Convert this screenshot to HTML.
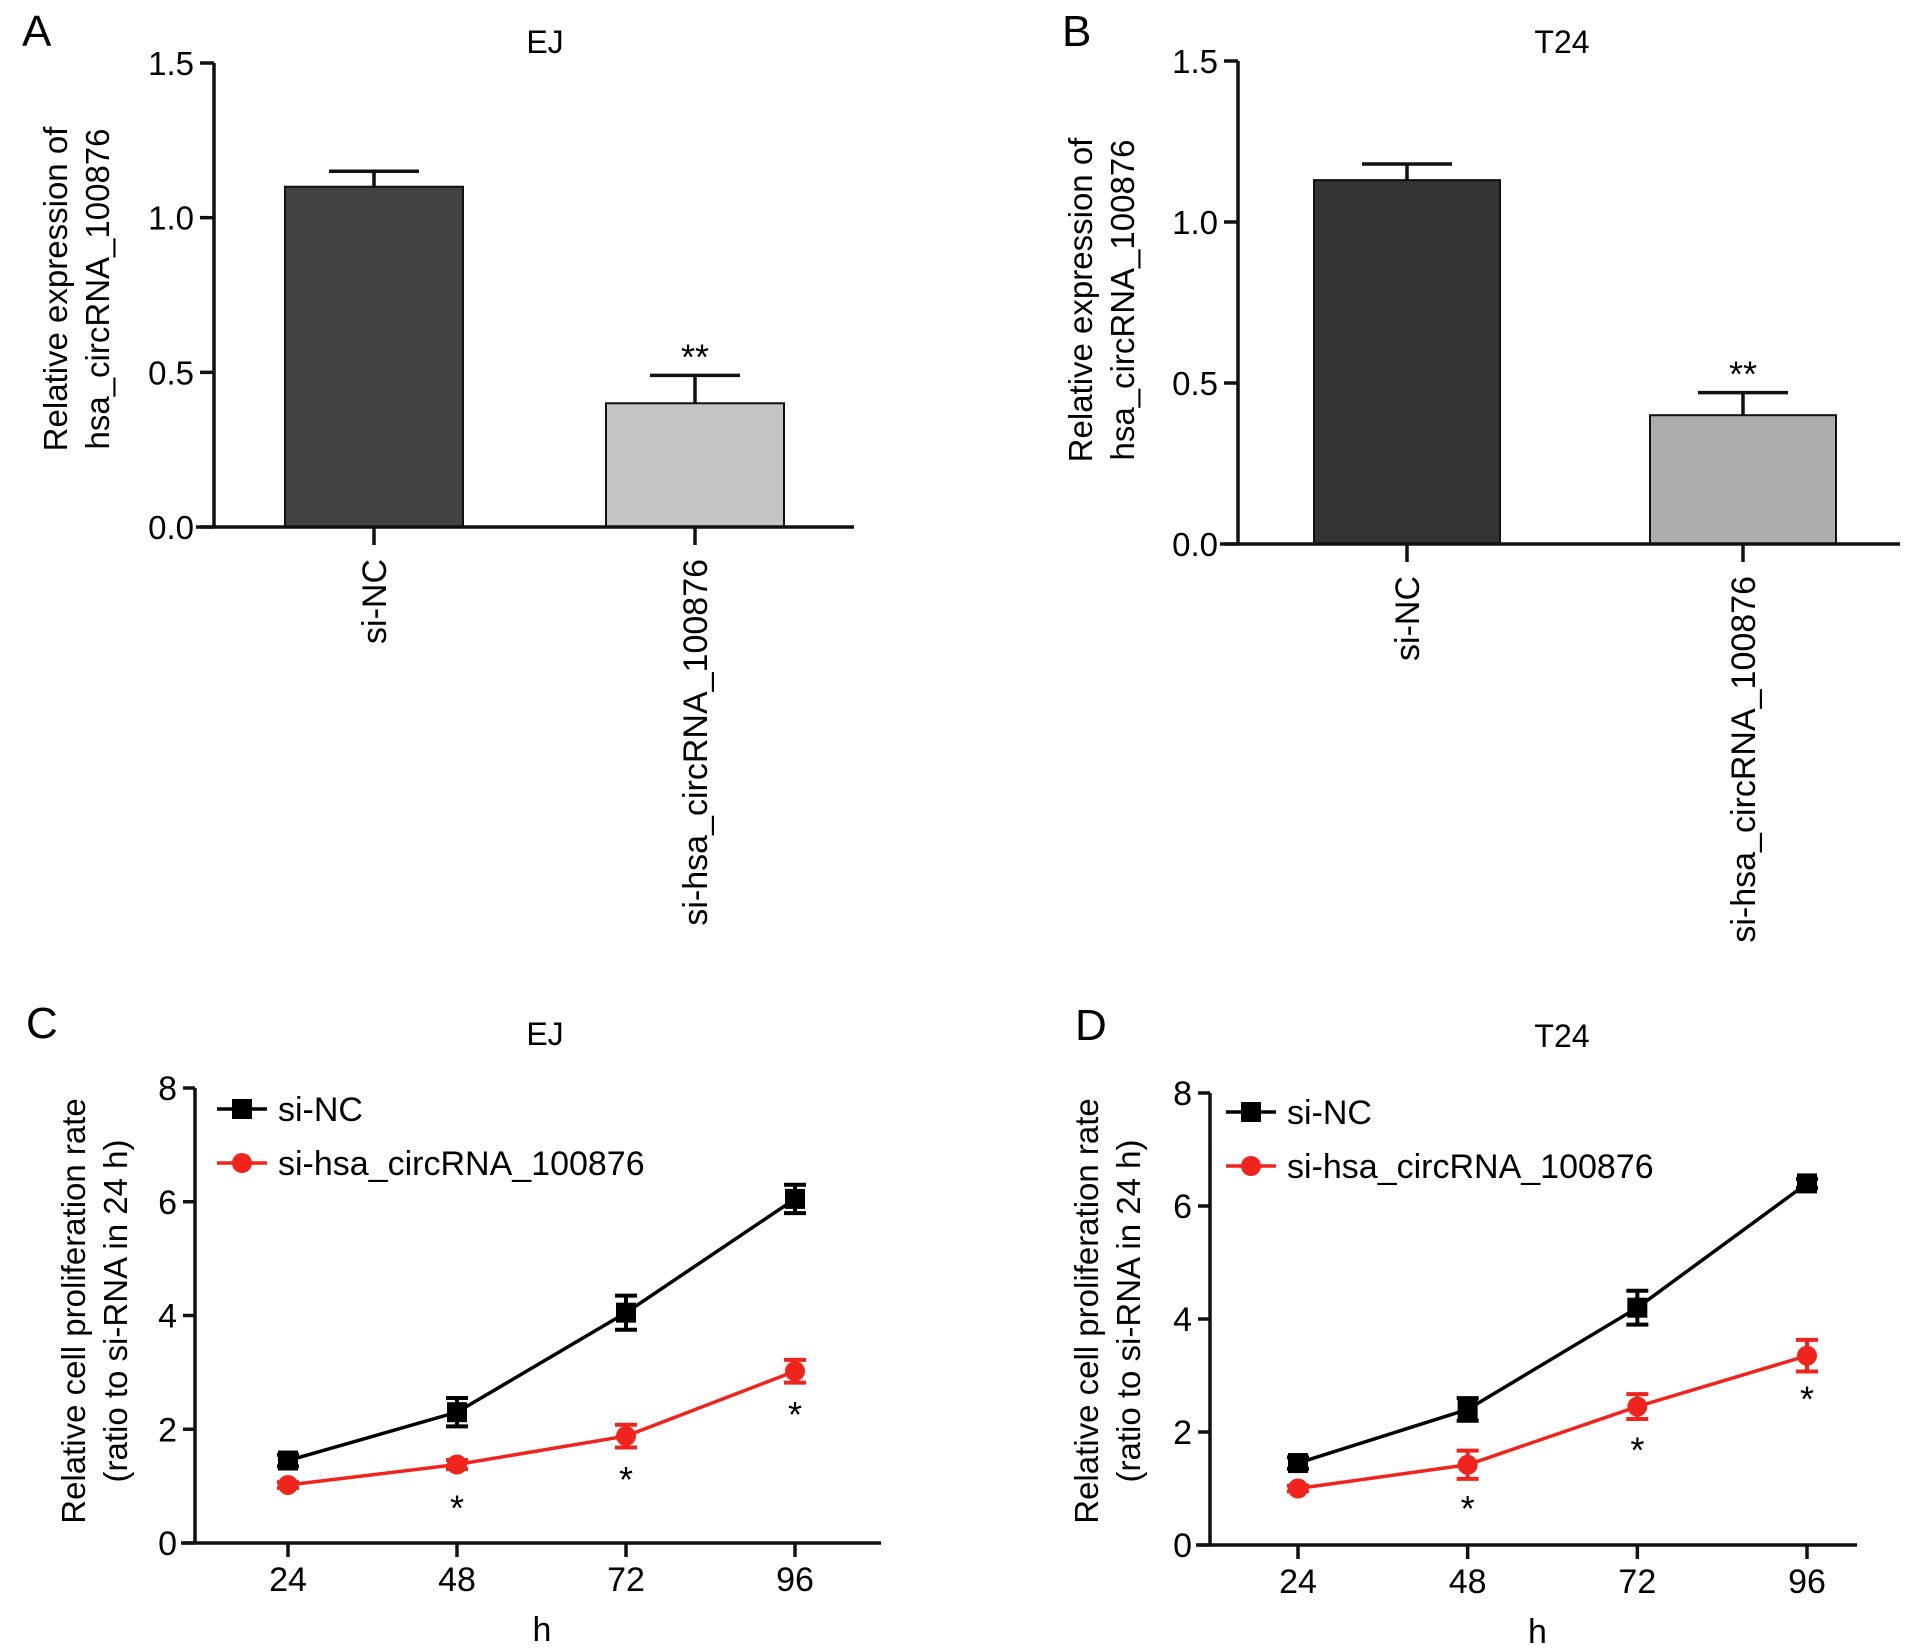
<!DOCTYPE html>
<html><head><meta charset="utf-8"><style>
html,body{margin:0;padding:0;background:#fff;}
svg{display:block;font-family:"Liberation Sans",Arial,sans-serif;}
</style></head><body>
<svg id="fig" width="1913" height="1652" viewBox="0 0 1913 1652" xmlns="http://www.w3.org/2000/svg"></svg>
<script>
// Panel A data (EJ)
const barCatsA = ["si-NC", "si-hsa_circRNA_100876"];
const barValsA = [1.10, 0.40];
const barErrA = [0.05, 0.09];
const barStarsA = ["", "**"];
// Panel B data (T24)
const barCatsB = ["si-NC", "si-hsa_circRNA_100876"];
const barValsB = [1.13, 0.40];
const barErrB = [0.05, 0.07];
const barStarsB = ["", "**"];
const barTicks = [0.0, 0.5, 1.0, 1.5];
const barTickLabels = ["0.0", "0.5", "1.0", "1.5"];
// Panel C data (EJ)
const hours = [24, 48, 72, 96];
const ncC = [1.45, 2.3, 4.05, 6.05];
const ncErrC = [0.1, 0.25, 0.3, 0.25];
const siC = [1.02, 1.38, 1.88, 3.02];
const siErrC = [0.05, 0.08, 0.2, 0.2];
// Panel D data (T24)
const ncD = [1.45, 2.4, 4.2, 6.4];
const ncErrD = [0.1, 0.2, 0.3, 0.08];
const siD = [1.0, 1.42, 2.45, 3.35];
const siErrD = [0.05, 0.25, 0.22, 0.28];
const lineTicks = [0, 2, 4, 6, 8];
const starsLine = ["", "*", "*", "*"];

const NS = "http://www.w3.org/2000/svg";
const svg = document.getElementById("fig");
function el(tag, attrs, parent, text) {
  const e = document.createElementNS(NS, tag);
  for (const k in attrs) e.setAttribute(k, attrs[k]);
  if (text !== undefined) e.textContent = text;
  (parent || svg).appendChild(e);
  return e;
}
function group(name, parent) {
  const g = el("g", {}, parent);
  
  
  return g;
}

function barPanel(p) {
  const g = group(p.name);
  const y = v => p.y0 - (v / 1.5) * (p.y0 - p.y15);
  const t1 = el("text", {x: p.lx, y: p.ly, "font-size": 44}, g, p.letter);
  
  
  const t2 = el("text", {x: p.tx, y: 53, "font-size": 32, "text-anchor": "middle"}, g, p.title);
  
  
  p.vals.forEach((v, i) => {
    const bx = p.bx[i], bw = p.bw;
    const cx = bx + bw / 2;
    const et = y(v + p.err[i]);
    const e1 = el("line", {x1: cx, y1: y(v), x2: cx, y2: et, stroke: "#111", "stroke-width": 3.5}, g);
    
    
    const e2 = el("line", {x1: cx - 45, y1: et, x2: cx + 45, y2: et, stroke: "#111", "stroke-width": 3.5}, g);
    
    
    const r = el("rect", {x: bx, y: y(v), width: bw, height: p.y0 - y(v), fill: p.colors[i], stroke: "#111", "stroke-width": 2}, g);
    
    
    if (p.stars[i]) {
      const s = el("text", {x: cx, y: et - 6, "font-size": 36, "text-anchor": "middle"}, g, p.stars[i]);
      
      
    }
    const tk = el("line", {x1: cx, y1: p.y0, x2: cx, y2: p.y0 + 18, stroke: "#111", "stroke-width": 3.5}, g);
    
    
    const cl = el("text", {x: 0, y: 0, "font-size": 34, "text-anchor": "end", transform: `translate(${cx + 12},${p.y0 + 32}) rotate(-90)`}, g, p.cats[i]);
    
    
  });
  const ya = el("line", {x1: p.ax, y1: p.y15, x2: p.ax, y2: p.y0 + 1.5, stroke: "#111", "stroke-width": 3.5}, g);
  
  
  const xa = el("line", {x1: p.ax - 18, y1: p.y0, x2: p.xend, y2: p.y0, stroke: "#111", "stroke-width": 3.5}, g);
  
  
  barTicks.forEach((t, i) => {
    const tl = el("line", {x1: p.ax - 14, y1: y(t), x2: p.ax, y2: y(t), stroke: "#111", "stroke-width": 3.5}, g);
    
    
    const tt = el("text", {x: p.ax - 20, y: y(t) + 12, "font-size": 33, "text-anchor": "end"}, g, barTickLabels[i]);
    
    
  });
  const yt = el("text", {x: 0, y: 0, "font-size": 33, "text-anchor": "middle", transform: `translate(${p.ytx},${p.yty}) rotate(-90)`}, g);
  
  
  el("tspan", {x: 0, dy: 0}, yt, "Relative expression of");
  el("tspan", {x: 0, dy: 42}, yt, "hsa_circRNA_100876");
}

function linePanel(p) {
  const g = group(p.name);
  const y = v => p.y0 - (v / 8) * (p.y0 - p.y8);
  const x = h => p.x24 + (h - 24) / 72 * (p.x96 - p.x24);
  const t1 = el("text", {x: p.lx, y: p.ly, "font-size": 44}, g, p.letter);
  
  
  const t2 = el("text", {x: p.tx, y: p.ty, "font-size": 32, "text-anchor": "middle"}, g, p.title);
  
  
  const ya = el("line", {x1: p.ax, y1: p.y8, x2: p.ax, y2: p.y0 + 1.5, stroke: "#111", "stroke-width": 3.5}, g);
  
  
  const xa = el("line", {x1: p.ax - 14, y1: p.y0, x2: p.xend, y2: p.y0, stroke: "#111", "stroke-width": 3.5}, g);
  
  
  lineTicks.forEach(t => {
    const tl = el("line", {x1: p.ax - 12, y1: y(t), x2: p.ax, y2: y(t), stroke: "#111", "stroke-width": 3.5}, g);
    
    
    const tt = el("text", {x: p.ax - 18, y: y(t) + 12, "font-size": 34, "text-anchor": "end"}, g, String(t));
    
    
  });
  hours.forEach(h => {
    const tl = el("line", {x1: x(h), y1: p.y0, x2: x(h), y2: p.y0 + 14, stroke: "#111", "stroke-width": 3.5}, g);
    
    
    const tt = el("text", {x: x(h), y: p.y0 + 48, "font-size": 34, "text-anchor": "middle"}, g, String(h));
    
    
  });
  const xt = el("text", {x: (p.ax + p.xend) / 2 + 4, y: p.y0 + 98, "font-size": 34, "text-anchor": "middle"}, g, "h");
  
  
  const yt = el("text", {x: 0, y: 0, "font-size": 33, "text-anchor": "middle", transform: `translate(${p.ytx},${p.yty}) rotate(-90)`}, g);
  
  
  el("tspan", {x: 0, dy: 0}, yt, "Relative cell proliferation rate");
  el("tspan", {x: 0, dy: 42}, yt, "(ratio to si-RNA in 24 h)");

  const series = [
    {name: "series-si-NC", vals: p.nc, err: p.ncErr, color: "#000", shape: "square"},
    {name: "series-si-hsa-circRNA", vals: p.si, err: p.siErr, color: "#f0241c", shape: "circle"}
  ];
  series.forEach((s, si) => {
    const sg = group(s.name, g);
    const pl = el("polyline", {points: hours.map((h, i) => x(h) + "," + y(s.vals[i])).join(" "), fill: "none", stroke: s.color, "stroke-width": 3.5}, sg);
    
    
    hours.forEach((h, i) => {
      const cx = x(h), cy = y(s.vals[i]), e = s.err[i];
      const eb = el("path", {d: `M${cx},${y(s.vals[i] + e)}V${y(s.vals[i] - e)}M${cx - 11},${y(s.vals[i] + e)}H${cx + 11}M${cx - 11},${y(s.vals[i] - e)}H${cx + 11}`, stroke: s.color, "stroke-width": 4, fill: "none"}, sg);
      
      
      let m;
      if (s.shape === "square") m = el("rect", {x: cx - 10, y: cy - 10, width: 20, height: 20, fill: s.color}, sg);
      else m = el("circle", {cx: cx, cy: cy, r: 10, fill: s.color}, sg);
      
      
      if (si === 1 && starsLine[i]) {
        const st = el("text", {x: cx, y: cy + 56, "font-size": 36, "text-anchor": "middle"}, sg, starsLine[i]);
        
        
      }
    });
    const ly = p.legY[si];
    const lg = group('legend-entry', g);
    el("line", {x1: p.legX, y1: ly, x2: p.legX + 50, y2: ly, stroke: s.color, "stroke-width": 3.5}, lg);
    if (s.shape === "square") el("rect", {x: p.legX + 15, y: ly - 10, width: 20, height: 20, fill: s.color}, lg);
    else el("circle", {cx: p.legX + 25, cy: ly, r: 10, fill: s.color}, lg);
    el("text", {x: p.legX + 61, y: ly + 12, "font-size": 34}, lg, si === 0 ? "si-NC" : "si-hsa_circRNA_100876");
  });
}

barPanel({name: "panel-a", letter: "A", lx: 22, ly: 46, title: "EJ", tx: 545, ax: 214, y0: 527, y15: 63, xend: 854,
  bx: [285, 606], bw: 178, vals: barValsA, err: barErrA, cats: barCatsA, stars: barStarsA, colors: ["#424242", "#c4c4c4"],
  ytx: 67, yty: 289});
barPanel({name: "panel-b", letter: "B", lx: 1062, ly: 46, title: "T24", tx: 1562, ax: 1238, y0: 544, y15: 61, xend: 1900,
  bx: [1314, 1650], bw: 186, vals: barValsB, err: barErrB, cats: barCatsB, stars: barStarsB, colors: ["#333333", "#adadad"],
  ytx: 1092, yty: 300});
linePanel({name: "panel-c", letter: "C", lx: 26, ly: 1038, title: "EJ", tx: 545, ty: 1045, ax: 195, y0: 1543, y8: 1088, xend: 881,
  x24: 288, x96: 795, nc: ncC, ncErr: ncErrC, si: siC, siErr: siErrC, legX: 217, legY: [1109, 1163], ytx: 85, yty: 1311});
linePanel({name: "panel-d", letter: "D", lx: 1075, ly: 1040, title: "T24", tx: 1562, ty: 1047, ax: 1210, y0: 1545, y8: 1093, xend: 1857,
  x24: 1298, x96: 1807, nc: ncD, ncErr: ncErrD, si: siD, siErr: siErrD, legX: 1226, legY: [1112, 1166], ytx: 1098, yty: 1311});
</script>
</body></html>
